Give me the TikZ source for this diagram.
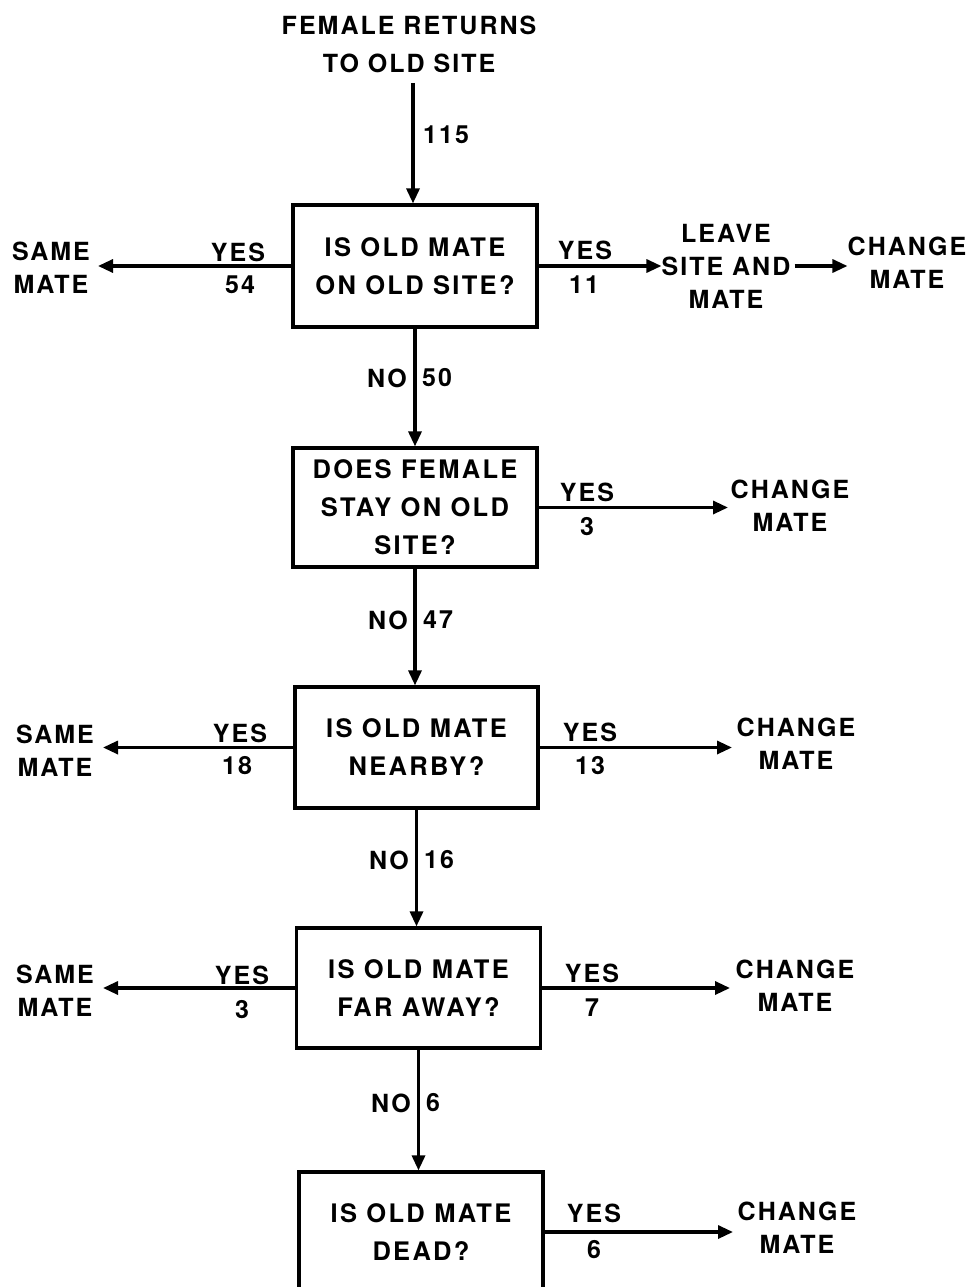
\documentclass[tikz,border=0pt]{standalone}
\usepackage{fontspec}
\setmainfont{TeX Gyre Heros}[LetterSpace=8]
\newfontfamily\boxfont{TeX Gyre Heros}[LetterSpace=9]
\usetikzlibrary{arrows.meta}
\begin{document}
\begin{tikzpicture}[x=1pt,y=-1pt,
  every node/.style={font=\fontsize{25}{38}\selectfont\bfseries, align=center, inner sep=0pt},
  qbox/.style={draw, line width=3.2pt, minimum width=244pt, minimum height=120pt,
    font=\boxfont\fontsize{25.5}{38}\selectfont\bfseries},
  lab/.style={font=\fontsize{25}{33}\selectfont\bfseries},
  flow/.style={line width=3.2pt, -{Triangle[length=15pt,width=13pt]}}]
\clip (0,0) rectangle (971,1287);
% title
\node (title) at (409,44) {FEMALE RETURNS\\TO OLD SITE};
\coordinate (start) at (413,83);
% boxes
\node[qbox, minimum height=122pt] (b1) at (415,266) {IS OLD MATE\\ON OLD SITE?};
\node[qbox, minimum height=119pt] (b2) at (415,507.5) {DOES FEMALE\\STAY ON OLD\\SITE?};
\node[qbox, minimum width=243pt, minimum height=121pt] (b3) at (416.5,747.5) {IS OLD MATE\\NEARBY?};
\node[qbox] (b4) at (418.5,988) {IS OLD MATE\\FAR AWAY?};
\node[qbox] (b5) at (421,1232) {IS OLD MATE\\DEAD?};
% vertical connectors
\draw[flow] (start) -- (start |- b1.north);
\draw[flow] (b1.south) -- (b1.south |- b2.north);
\draw[flow] (b2.south) -- (b2.south |- b3.north);
\draw[flow] (b3.south) -- (b3.south |- b4.north);
\draw[flow] (b4.south) -- (b4.south |- b5.north);
\node[anchor=west] (n115) at (423,135) {115};
\node[anchor=east] (no1) at (407,378) {NO};
\node[anchor=west] (n50) at (422,378) {50};
\node[anchor=east] (no2) at (408,620) {NO};
\node[anchor=west] (n47) at (423,620) {47};
\node[anchor=east] (no3) at (409,860) {NO};
\node[anchor=west] (n16) at (424,860) {16};
\node[anchor=east] (no4) at (411,1103) {NO};
\node[anchor=west] (n6a) at (426,1103) {6};
% row 1
\coordinate (tl1) at (98,0);
\draw[flow] (b1.west) -- (b1.west -| tl1);
\node[lab] (same1) at (51,268) {SAME\\MATE};
\node[lab] (y1l) at (238,252) {YES};
\node[lab] (n54) at (240,285) {54};
\node[lab] (leave) at (726,266) {LEAVE\\SITE AND\\MATE};
\draw[flow] (b1.east) -- (leave.west);
\node[lab] (y1r) at (585,250) {YES};
\node[lab] (n11) at (584,285) {11};
\node[lab] (change1) at (907,263) {CHANGE\\MATE};
\draw[flow, shorten <=4pt] (leave.east |- 0,266) -- (change1.west |- 0,266);
% row 2
\coordinate (tr2) at (728,0);
\draw[flow] (b2.east) -- (b2.east -| tr2);
\node[lab] (y2r) at (587,492) {YES};
\node[lab] (n3a) at (587,527) {3};
\node[lab] (change2) at (790,506) {CHANGE\\MATE};
% row 3
\coordinate (tl3) at (103,0);
\coordinate (tr3) at (732,0);
\draw[flow] (b3.west) -- (b3.west -| tl3);
\draw[flow] (b3.east) -- (b3.east -| tr3);
\node[lab] (same3) at (55,751) {SAME\\MATE};
\node[lab] (y3l) at (240,733) {YES};
\node[lab] (n18) at (237,766) {18};
\node[lab] (y3r) at (590,732) {YES};
\node[lab] (n13) at (590,766) {13};
\node[lab] (change3) at (796,744) {CHANGE\\MATE};
% row 4
\coordinate (tl4) at (103,0);
\coordinate (tr4) at (730,0);
\draw[flow] (b4.west) -- (b4.west -| tl4);
\draw[flow] (b4.east) -- (b4.east -| tr4);
\node[lab] (same4) at (55,991) {SAME\\MATE};
\node[lab] (y4l) at (242,975) {YES};
\node[lab] (n3b) at (242,1010) {3};
\node[lab] (y4r) at (592,973) {YES};
\node[lab] (n7) at (592,1008) {7};
\node[lab] (change4) at (795,986) {CHANGE\\MATE};
% row 5
\coordinate (tr5) at (733,0);
\draw[flow] (b5.east) -- (b5.east -| tr5);
\node[lab] (y5r) at (594,1213) {YES};
\node[lab] (n6b) at (594,1250) {6};
\node[lab] (change5) at (797,1228) {CHANGE\\MATE};
\end{tikzpicture}
\end{document}
